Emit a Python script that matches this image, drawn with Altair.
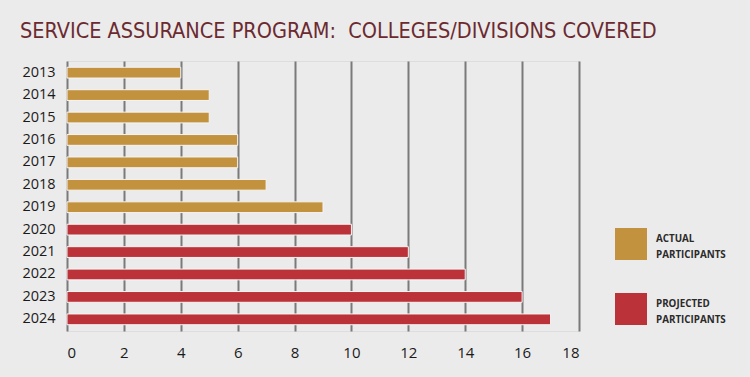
import altair as alt
import pandas as pd

years = ["2013", "2014", "2015", "2016", "2017", "2018", "2019",
         "2020", "2021", "2022", "2023", "2024"]
values = [4, 5, 5, 6, 6, 7, 9, 10, 12, 14, 16, 17]
status = ["ACTUAL PARTICIPANTS"] * 7 + ["PROJECTED PARTICIPANTS"] * 5
x_ticks = [0, 2, 4, 6, 8, 10, 12, 14, 16, 18]

df = pd.DataFrame({"year": years, "value": values, "status": status})

bars = alt.Chart(df).mark_bar(stroke="#f6f4f4", strokeWidth=1).encode(
    y=alt.Y("year:N", sort=years, title=None,
            scale=alt.Scale(paddingInner=0.52, paddingOuter=0.28),
            axis=alt.Axis(labelAlign="left", labelPadding=45, ticks=False, domain=False,
                          labelFont="Open Sans", labelFontSize=14.5, labelColor="#1a1a1a",
                          grid=False)),
    x=alt.X("value:Q", title=None,
            scale=alt.Scale(domain=[0, 18], nice=False),
            axis=alt.Axis(values=x_ticks, ticks=False, domain=False, grid=True,
                          gridColor="#7a7a7a", gridWidth=2, labelPadding=14,
                          labelFont="Open Sans", labelFontSize=15, labelColor="#1a1a1a")),
    color=alt.Color("status:N",
                    scale=alt.Scale(domain=["ACTUAL PARTICIPANTS", "PROJECTED PARTICIPANTS"],
                                    range=["#c2923f", "#bb3238"]),
                    legend=alt.Legend(title=None, orient="none", legendX=548, legendY=167,
                                      symbolType="square", symbolSize=1024,
                                      symbolStrokeWidth=0, symbolOpacity=1,
                                      rowPadding=33, labelOffset=9,
                                      labelBaseline="bottom",
                                      labelFont="Open Sans", labelFontSize=9.8,
                                      labelFontWeight="bold", labelColor="#2a2a2a",
                                      labelExpr="split(datum.label, ' ')")),
)

chart = bars.properties(
    width=512, height=270,
    background="#ecebeb",
    autosize="none",
    padding={"left": 67, "top": 61, "right": 171, "bottom": 46},
    title=alt.TitleParams("SERVICE ASSURANCE PROGRAM:\u00a0 COLLEGES/DIVISIONS COVERED",
                          anchor="start", frame="group", dx=-47, offset=19,
                          font="DejaVu Sans Condensed", fontSize=21.5, fontWeight="normal",
                          color="#6b2a30"),
).configure_view(stroke=None, fill="#ecebeb").configure(
    style={"guide-label": {"lineHeight": 16}}
)

chart.save("out.html", embed_options={"renderer": "svg", "actions": False})
